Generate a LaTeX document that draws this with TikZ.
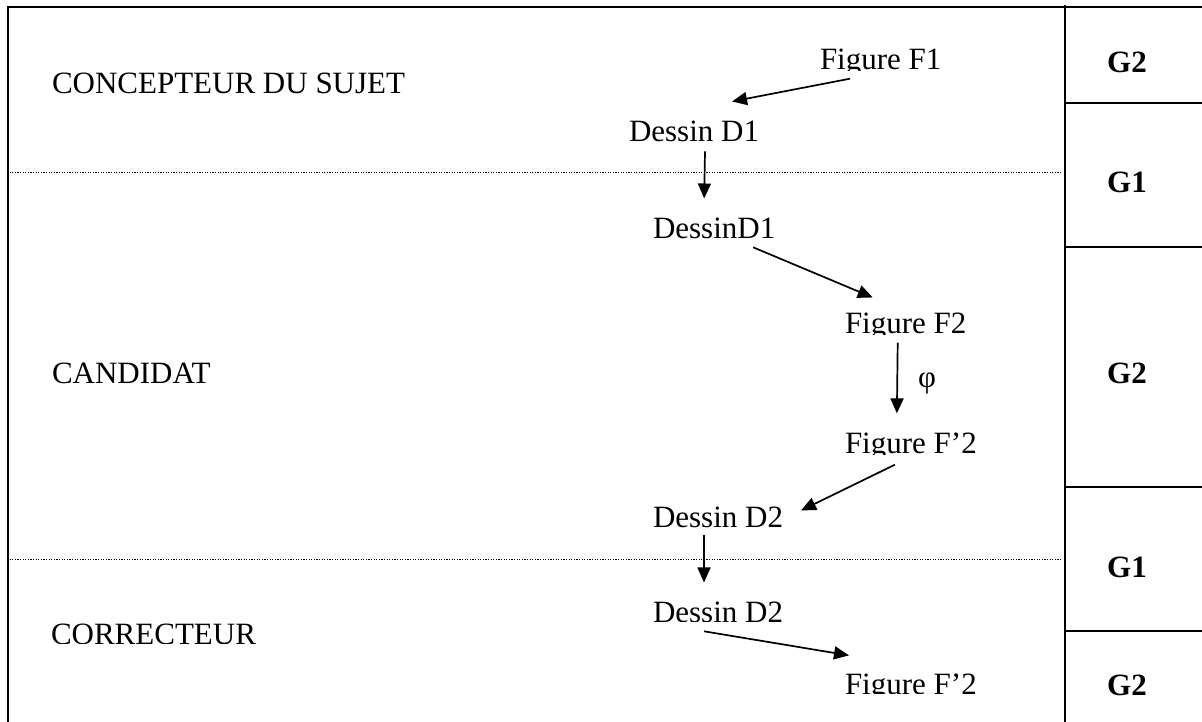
\documentclass[tikz,border=0pt]{standalone}
\usepackage{fontspec}
\setmainfont{Liberation Serif}
\usetikzlibrary{arrows.meta,calc}
\begin{document}
\begin{tikzpicture}[x=1pt,y=-1pt,
  every node/.style={font=\fontsize{31}{37}\selectfont, inner sep=0pt, outer sep=0pt},
  txt/.style={anchor=base west},
  gcell/.style={anchor=center, font=\fontsize{31}{37}\selectfont\bfseries},
  frame/.style={line width=2.7pt},
  rule/.style={line width=1.9pt},
  dotline/.style={line width=1pt, dash pattern=on 1.1pt off 1.5pt},
  arr/.style={line width=1.7pt, -{Triangle[length=15pt,width=13pt]}}]
\useasboundingbox (0,0) rectangle (1202,722);
% frame and table
\draw[frame] (8,722) -- (8,7) -- (1202,7);
\draw[rule] (1065,5) -- (1065,722);
\draw[rule] (1065,103) -- (1202,103);
\draw[rule] (1065,247) -- (1202,247);
\draw[rule] (1065,487) -- (1202,487);
\draw[rule] (1065,631) -- (1202,631);
\draw[dotline] (7,173) -- (1062,173);
\draw[dotline] (7,559) -- (1062,559);
% row labels
\node[txt] (cs) at (52,94) {CONCEPTEUR DU SUJET};
\node[txt] (cand) at (52,383) {CANDIDAT};
\begin{scope}
\clip (40,600) rectangle (300,643);
\node[txt] (corr) at (51,644) {CORRECTEUR};
\end{scope}
% right column
\node[gcell] (g1) at (1127,62) {G2};
\node[gcell] (g2) at (1127,182) {G1};
\node[gcell] (g3) at (1127,373) {G2};
\node[gcell] (g4) at (1127,567) {G1};
\node[gcell] (g5) at (1127,685) {G2};
% chain
\begin{scope}
\clip (810,30) rectangle (960,71);
\node[txt] (f1) at (820,70) {Figure F1};
\end{scope}
\node[txt] (d1a) at (629,142) {Dessin D1};
\node[txt] (d1b) at (653,238) {DessinD1};
\begin{scope}
\clip (835,295) rectangle (990,334);
\node[txt] (f2) at (845,333) {Figure F2};
\end{scope}
\node (phi) at (927,383) {φ};
\begin{scope}
\clip (835,415) rectangle (990,454);
\node[txt] (fp2a) at (845,453) {Figure F’2};
\end{scope}
\node[txt] (d2a) at (653,527) {Dessin D2};
\begin{scope}
\clip (640,585) rectangle (800,621);
\node[txt] (d2b) at (653,622) {Dessin D2};
\end{scope}
\begin{scope}
\clip (835,655) rectangle (990,693);
\node[txt] (fp2b) at (845,694) {Figure F’2};
\end{scope}
% connectors
\draw[arr] ($(f1.south west)+(30,2)$) -- ($(d1a.north east)+(-27,-20)$);
\draw[arr] ($(d1a.south)+(11,9)$) -- ($(d1b.north)+(-10,-19)$);
\draw[arr] ($(d1b.south)+(39,9)$) -- ($(f2.north)+(-33,-15)$);
\draw[arr] ($(f2.south)+(-8,3)$) -- ($(fp2a.north)+(-14,-19)$);
\draw[arr] ($(fp2a.south)+(-16,5)$) -- ($(d2a.north east)+(18,4)$);
\draw[arr] ($(d2a.south)+(-14,8)$) -- ($(d2b.north)+(-14,-19)$);
\draw[arr] ($(d2b.south)+(-14,9)$) -- ($(fp2b.north west)+(4,-18)$);
\end{tikzpicture}
\end{document}
